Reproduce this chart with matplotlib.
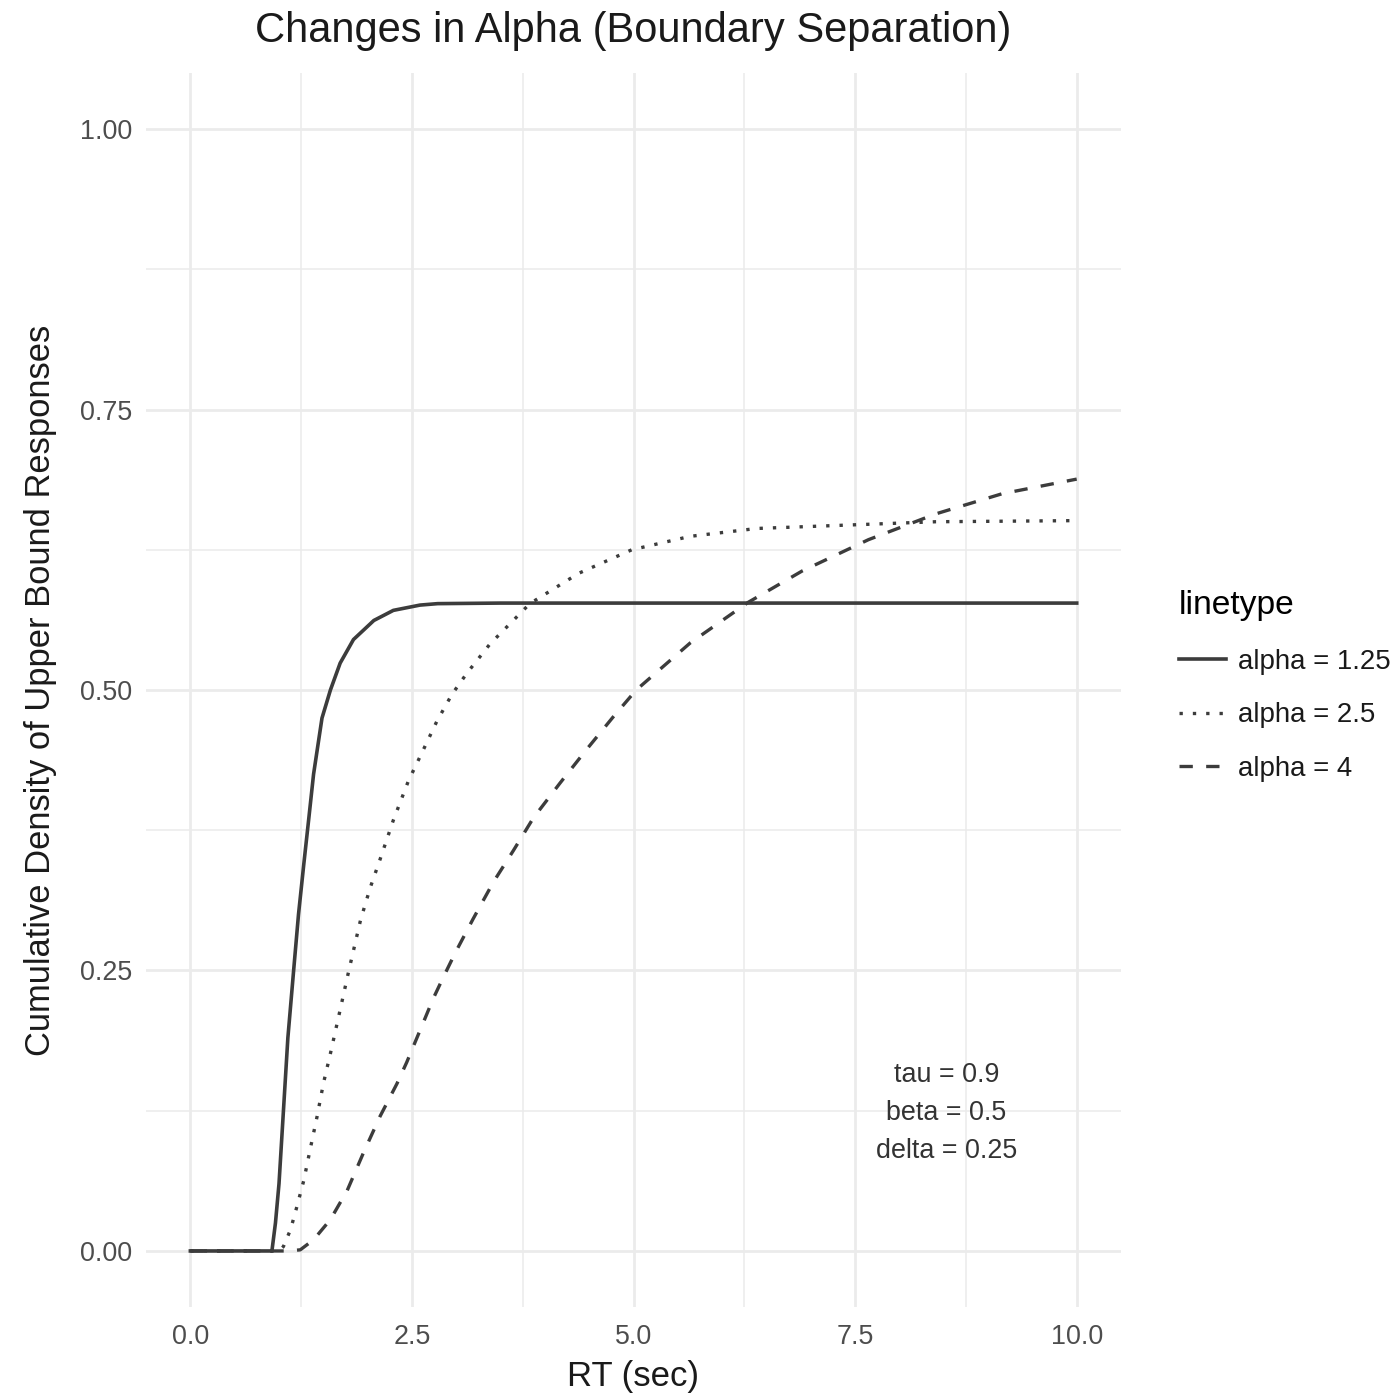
import matplotlib
matplotlib.use("Agg")
import matplotlib.pyplot as plt
from matplotlib.ticker import MultipleLocator

plt.rcParams['font.family'] = ['Liberation Sans', 'DejaVu Sans']

# values
rt_a125 = [0, 0.92, 0.96, 1.0, 1.05, 1.10, 1.165, 1.22, 1.28, 1.334, 1.39, 1.485,
           1.58, 1.69, 1.84, 2.07, 2.29, 2.59, 2.79, 3.5, 10.0]
cdf_a125 = [0, 0, 0.025, 0.060, 0.125, 0.190, 0.250, 0.300, 0.345, 0.384, 0.425, 0.475,
            0.500, 0.524, 0.545, 0.562, 0.571, 0.5757, 0.577, 0.5775, 0.5775]

rt_a25 = [0, 1.0, 1.05, 1.13, 1.20, 1.28, 1.35, 1.43, 1.50, 1.58, 1.69, 1.785, 1.92,
          2.03, 2.14, 2.29, 2.46, 2.63, 2.78, 2.95, 3.12, 3.38, 3.83, 4.38, 4.98,
          5.64, 6.39, 7.40, 8.41, 10.0]
cdf_a25 = [0, 0, 0.004, 0.019, 0.039, 0.063, 0.090, 0.120, 0.149, 0.176, 0.215, 0.249, 0.295,
           0.324, 0.349, 0.384, 0.419, 0.447, 0.472, 0.496, 0.515, 0.541, 0.577, 0.604, 0.625,
           0.637, 0.644, 0.647, 0.650, 0.651]

rt_a4 = [0, 1.10, 1.24, 1.39, 1.58, 1.77, 1.95, 2.14, 2.33, 2.44, 2.63, 2.74, 2.86,
         2.99, 3.19, 3.42, 3.645, 3.87, 4.17, 4.47, 4.77, 5.03, 5.64, 6.29, 6.90,
         7.65, 8.41, 9.16, 10.0]
cdf_a4 = [0, 0, 0.001, 0.010, 0.028, 0.054, 0.087, 0.120, 0.149, 0.168, 0.204, 0.225, 0.245,
          0.266, 0.296, 0.329, 0.357, 0.386, 0.417, 0.447, 0.476, 0.500, 0.542, 0.578, 0.606,
          0.634, 0.657, 0.675, 0.688]

labels = ["alpha = 1.25", "alpha = 2.5", "alpha = 4"]
params_text = "tau = 0.9\nbeta = 0.5\ndelta = 0.25"

fig = plt.figure(figsize=(6.975, 6.965), dpi=200)
ax = fig.add_axes([0.1047, 0.0617, 0.6989, 0.8859])

line_col = '#3c3c3c'
lw = 1.2
ax.plot(rt_a125, cdf_a125, color=line_col, lw=lw + 0.1, ls='-', label=labels[0])
ax.plot(rt_a25, cdf_a25, color=line_col, lw=lw, ls=(0, (1, 3)), label=labels[1])
ax.plot(rt_a4, cdf_a4, color=line_col, lw=lw, ls=(0, (4, 4)), label=labels[2])

ax.text(8.53, 0.123, params_text, ha='center', va='center', fontsize=9.7,
        color='#333333', linespacing=1.6)

ax.set_xlim(-0.5, 10.5)
ax.set_ylim(-0.05, 1.05)
ax.xaxis.set_major_locator(MultipleLocator(2.5))
ax.xaxis.set_minor_locator(MultipleLocator(1.25))
ax.yaxis.set_major_locator(MultipleLocator(0.25))
ax.yaxis.set_minor_locator(MultipleLocator(0.125))
ax.xaxis.set_major_formatter(plt.FuncFormatter(lambda v, p: f"{v:.1f}"))
ax.yaxis.set_major_formatter(plt.FuncFormatter(lambda v, p: f"{v:.2f}"))

ax.grid(which='major', color='#EBEBEB', lw=1.0)
ax.grid(which='minor', color='#EBEBEB', lw=0.55)
ax.set_axisbelow(True)
for s in ax.spines.values():
    s.set_visible(False)
ax.tick_params(which='both', length=0, labelsize=9.7, labelcolor='#4D4D4D')
ax.tick_params(axis='y', pad=5)
ax.tick_params(axis='x', pad=6)

fig.text(0.4538, 0.978, "Changes in Alpha (Boundary Separation)", ha='center',
         va='center', fontsize=15.0, color='#1a1a1a')
fig.text(0.4538, 0.0122, "RT (sec)", ha='center', va='center', fontsize=12.5,
         color='#1a1a1a')
fig.text(0.0287, 0.5047, "Cumulative Density of Upper Bound Responses", ha='center',
         va='center', rotation=90, fontsize=12.45, color='#1a1a1a')

leg = ax.legend(loc='center left', bbox_to_anchor=(0.845, 0.5075),
                bbox_transform=fig.transFigure, frameon=False, fontsize=9.95,
                title="linetype", title_fontsize=12.1, handlelength=1.7,
                handletextpad=0.45, labelspacing=1.0, borderpad=0, borderaxespad=0)
leg._legend_box.align = 'left'
for t in leg.get_texts():
    t.set_color('#1a1a1a')

fig.savefig("out.png", dpi=200)
